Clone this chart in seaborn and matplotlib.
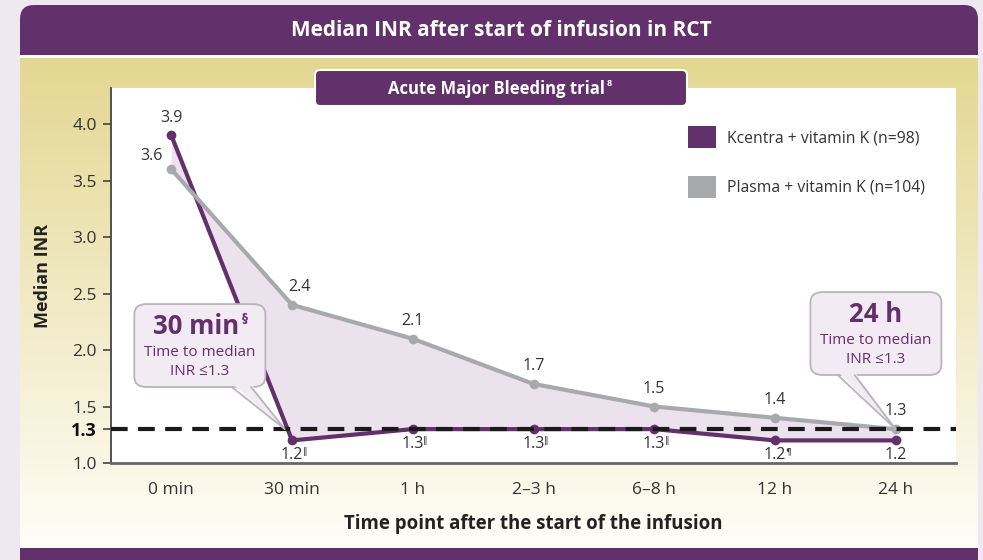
import numpy as np
import pandas as pd
import matplotlib.pyplot as plt
import seaborn as sns
from matplotlib.patches import FancyBboxPatch, Polygon, Rectangle, Patch

# data
time_points = ["0 min", "30 min", "1 h", "2\u20133 h", "6\u20138 h", "12 h", "24 h"]
kcentra = [3.9, 1.2, 1.3, 1.3, 1.3, 1.2, 1.2]
plasma = [3.6, 2.4, 2.1, 1.7, 1.5, 1.4, 1.3]
kcentra_marks = ["", "\u2016", "\u2016", "\u2016", "\u2016", "\u00b6", ""]
threshold = 1.3
series_names = ["Kcentra + vitamin K (n=98)", "Plasma + vitamin K (n=104)"]

PURPLE = "#62306a"
GREY = "#a7a9ac"
FILL = "#ece2ed"
TEXT = "#333333"

sns.set_theme(style="white")
plt.rcParams["font.family"] = ["Open Sans", "DejaVu Sans"]

df = pd.DataFrame({
    "x": list(range(len(time_points))) * 2,
    "inr": kcentra + plasma,
    "group": [series_names[0]] * len(kcentra) + [series_names[1]] * len(plasma),
})

W, H = 983, 560
fig = plt.figure(figsize=(W / 100, H / 100), dpi=100, facecolor="#eee8f1")

# background panel (pixel coords)
bg = fig.add_axes([0, 0, 1, 1], zorder=-1)
bg.set_xlim(0, W)
bg.set_ylim(H, 0)
bg.axis("off")
bg.add_patch(FancyBboxPatch((20, 5), 958, 600, boxstyle="round,pad=0,rounding_size=14",
                            fc=PURPLE, ec="none", zorder=1))
bg.add_patch(Rectangle((20, 55), 958, 3, fc="white", ec="none", zorder=2))
grad = np.linspace(0, 1, 256).reshape(-1, 1)
top = np.array([0.890, 0.843, 0.570])
bot = np.array([1.0, 0.992, 0.972])
img = top[None, None, :] * (1 - grad[..., None]) + bot[None, None, :] * grad[..., None]
bg.imshow(img, extent=(20, 978, 548, 58), aspect="auto", interpolation="bilinear", zorder=3)
bg.set_xlim(0, W)
bg.set_ylim(H, 0)
bg.text(501, 31, "Median INR after start of infusion in RCT", color="white",
        fontsize=15, fontweight="bold", ha="center", va="center", zorder=4)

ax = fig.add_axes([111 / W, 1 - 463 / H, (956 - 111) / W, (463 - 88) / H])
ax.set_facecolor("white")

ax.fill_between(range(len(time_points)), kcentra, plasma, color=FILL, zorder=1, lw=0)
sns.lineplot(data=df, x="x", y="inr", hue="group", palette=[PURPLE, GREY],
             marker="o", markersize=7, markeredgewidth=0, linewidth=3,
             legend=False, ax=ax, zorder=3)
ax.axhline(threshold, color="#1a1a1a", lw=3, ls=(0, (4, 2.5)), zorder=4)

ax.set_xlim(-0.5, 6.5)
ax.set_ylim(1.0, 4.32)
ax.set_xticks(range(len(time_points)))
ax.set_xticklabels(time_points, fontsize=12.5, color=TEXT)
yt = [1.0, 1.3, 1.5, 2.0, 2.5, 3.0, 3.5, 4.0]
ax.set_yticks(yt)
ax.set_yticklabels([f"{v:.1f}" for v in yt], fontsize=12.5, color=TEXT)
for lab in ax.get_yticklabels():
    if lab.get_text() == "1.3":
        lab.set_fontweight("bold")
        lab.set_color("#111111")
        lab.set_fontsize(13)
ax.tick_params(axis="y", left=True, length=6, width=1.2, color="#444444", pad=4)
ax.tick_params(axis="x", bottom=False, pad=8)
for s in ["top", "right"]:
    ax.spines[s].set_visible(False)
ax.spines["left"].set_color("#444444")
ax.spines["bottom"].set_color("#666666")
ax.spines["left"].set_linewidth(1.3)
ax.spines["bottom"].set_linewidth(2)
ax.set_xlabel("Time point after the start of the infusion", fontsize=13.4,
              fontweight="bold", color="#222222", labelpad=11)
ax.set_ylabel("Median INR", fontsize=13, fontweight="bold", color="#222222", labelpad=14)

# value labels
for i, v in enumerate(plasma):
    if i == 0:
        ax.annotate(f"{v}", (i, v), xytext=(-14, 4), textcoords="offset points",
                    ha="center", va="bottom", fontsize=11.5, color=TEXT)
    else:
        ax.annotate(f"{v}", (i, v), xytext=(5 if i == 1 else 0, 7), textcoords="offset points",
                    ha="center", va="bottom", fontsize=11.5, color=TEXT)
for i, v in enumerate(kcentra):
    if i == 0:
        ax.annotate(f"{v}", (i, v), xytext=(0, 7), textcoords="offset points",
                    ha="center", va="bottom", fontsize=11.5, color=TEXT)
        continue
    ax.annotate(f"{v}", (i, v), xytext=(0, -5), textcoords="offset points",
                ha="center", va="top", fontsize=11.5, color=TEXT)
    if kcentra_marks[i]:
        ax.annotate(kcentra_marks[i], (i, v), xytext=(7.5, -5), textcoords="offset points",
                    ha="left", va="top", fontsize=6.5, color=TEXT,
                    family=["DejaVu Sans"])


def callout(x0, x1, y0, y1, b0, b1, tip, title, sup):
    ax.add_patch(FancyBboxPatch((x0, y1), x1 - x0, y0 - y1,
                                boxstyle="round,pad=0,rounding_size=0.1",
                                mutation_aspect=0.9,
                                fc="#f2ebf3", ec="#b9b5bb", lw=1.3, zorder=6))
    ax.add_patch(Polygon([(b0, y1 + 0.03), (tip[0], tip[1]), (b1, y1 + 0.03)],
                         closed=True, fc="#f2ebf3", ec="none", zorder=7))
    ax.plot([b0, tip[0], b1], [y1, tip[1], y1], color="#b9b5bb", lw=1.3, zorder=7)
    cx = (x0 + x1) / 2
    ax.text(cx - (0.03 if sup else 0), y0 - 0.2, title, ha="center", va="center", fontsize=18.5,
            fontweight="bold", color=PURPLE, zorder=8)
    if sup:
        ax.annotate(sup, (cx, y0 - 0.2), xytext=(30, 6), textcoords="offset points",
                    ha="left", va="center", fontsize=8.5, fontweight="bold",
                    color=PURPLE, zorder=8, family=["DejaVu Sans"])
    ax.text(cx, y0 - 0.43, "Time to median", ha="center", va="center",
            fontsize=11, color=PURPLE, zorder=8)
    ax.text(cx, y0 - 0.6, "INR \u22641.3", ha="center", va="center",
            fontsize=11, color=PURPLE, zorder=8)


callout(-0.307, 0.779, 2.407, 1.673, 0.50, 0.66, (0.94, threshold), "30 min", "\u00a7")
callout(5.294, 6.379, 2.513, 1.779, 5.52, 5.66, (6.0, threshold), "24 h", "")

# legend
handles = [Patch(fc=PURPLE, ec="none"), Patch(fc=GREY, ec="none")]
ax.legend(handles, series_names, loc="upper left",
          bbox_to_anchor=(688 / W, 1 - 126 / H), bbox_transform=fig.transFigure,
          frameon=False, fontsize=11.3, handlelength=1.8, handleheight=1.8,
          labelspacing=1.75, handletextpad=0.7, borderpad=0, borderaxespad=0,
          labelcolor=TEXT)

# subtitle tab
bg2 = fig.add_axes([0, 0, 1, 1], zorder=10)
bg2.set_xlim(0, W)
bg2.set_ylim(H, 0)
bg2.axis("off")
bg2.add_patch(FancyBboxPatch((315, 70), 372, 36, boxstyle="round,pad=0,rounding_size=5",
                             fc=PURPLE, ec="white", lw=1.5))
bg2.text(497, 89, "Acute Major Bleeding trial", color="white", fontsize=12,
         fontweight="bold", ha="center", va="center")
bg2.text(607, 84, "8", color="white", fontsize=6.5, fontweight="bold",
         ha="left", va="center")

fig.savefig("out.png", dpi=100, facecolor=fig.get_facecolor())
